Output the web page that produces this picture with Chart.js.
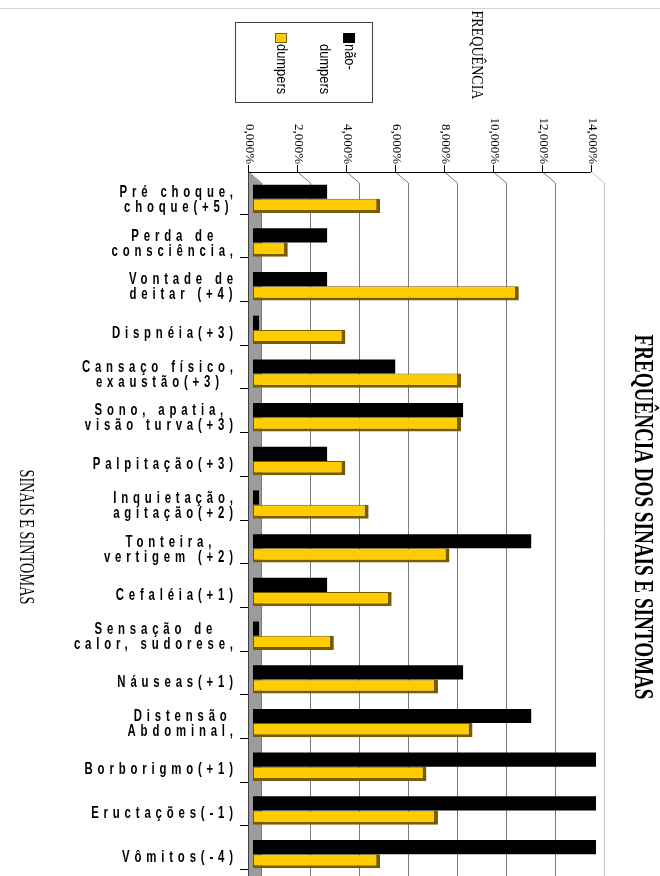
<!DOCTYPE html>
<html>
<head>
<meta charset="utf-8">
<script src="https://cdn.jsdelivr.net/npm/chart.js@4.4.1/dist/chart.umd.min.js"></script>
<style>
html, body { margin: 0; padding: 0; background: #fff; }
canvas { display: block; }
</style>
</head>
<body>
<canvas id="grafico" width="660" height="876"></canvas>
<script>
// dados
const categorias = [
    ['Pré choque,', 'choque(+5)'],
    ['Perda de', 'consciência,'],
    ['Vontade de', 'deitar (+4)'],
    'Dispnéia(+3)',
    ['Cansaço físico,', 'exaustão(+3)'],
    ['Sono, apatia,', 'visão turva(+3)'],
    'Palpitação(+3)',
    ['Inquietação,', 'agitação(+2)'],
    ['Tonteira,', 'vertigem (+2)'],
    'Cefaléia(+1)',
    ['Sensação de', 'calor, sudorese,'],
    'Náuseas(+1)',
    ['Distensão', 'Abdominal,'],
    'Borborigmo(+1)',
    'Eructações(-1)',
    'Vômitos(-4)'
];
const naoDumpers = [2.78, 2.78, 2.78, 0, 5.56, 8.33, 2.78, 0, 11.11, 2.78, 0, 8.33, 11.11, 13.89, 13.89, 13.89];
const dumpers = [5.19, 1.42, 10.85, 3.77, 8.49, 8.49, 3.77, 4.72, 8.02, 5.66, 3.30, 7.55, 8.96, 7.08, 7.55, 5.19];
const ticksX = [0, 2, 4, 6, 8, 10, 12, 14];
const legendas = [['não-', 'dumpers'], ['dumpers']];

const PROF = 13;      // profundidade do efeito 3D
const DESLOC = 0.245; // deslocamento da série de trás (em %)

const formatPct = v => v.toFixed(3).replace('.', ',') + '%';

// texto girado 90° e comprimido até caber numa largura
function textoGirado(ctx, txt, cx, cy, fonte, largura) {
    ctx.save();
    ctx.font = fonte;
    const w = ctx.measureText(txt).width;
    ctx.translate(cx, cy);
    ctx.rotate(Math.PI / 2);
    ctx.scale(largura / w, 1);
    ctx.textAlign = 'center';
    ctx.textBaseline = 'middle';
    ctx.fillText(txt, 0, 0);
    ctx.restore();
}

const desenho3d = {
    id: 'desenho3d',
    beforeDatasetsDraw(chart) {
        const { ctx, chartArea: a, scales: { x } } = chart;
        const frente = v => x.getPixelForValue(v) - 5;
        const topo = 172;
        ctx.save();
        // linhas de grade na parede do fundo
        ticksX.forEach((v, i) => {
            const fx = frente(v);
            ctx.strokeStyle = i === ticksX.length - 1 ? '#c4c4c4' : '#7a7a7a';
            ctx.lineWidth = 1;
            ctx.beginPath();
            ctx.moveTo(fx + 0.5, topo);
            ctx.lineTo(fx + PROF + 0.5, topo + 11);
            ctx.lineTo(fx + PROF + 0.5, a.bottom);
            ctx.stroke();
        });
        // parede lateral cinza
        const x0 = frente(0);
        ctx.fillStyle = '#9c9c9c';
        ctx.beginPath();
        ctx.moveTo(x0, topo);
        ctx.lineTo(x0 + PROF, topo + 11);
        ctx.lineTo(x0 + PROF, a.bottom);
        ctx.lineTo(x0, a.bottom);
        ctx.closePath();
        ctx.fill();
        ctx.strokeStyle = '#404040';
        ctx.beginPath();
        ctx.moveTo(x0 + 0.5, topo);
        ctx.lineTo(x0 + 0.5, a.bottom);
        ctx.stroke();
        // eixo de valores no topo
        ctx.strokeStyle = '#000';
        ctx.beginPath();
        ctx.moveTo(x0, topo + 0.5);
        ctx.lineTo(frente(14), topo + 0.5);
        ticksX.forEach(v => {
            ctx.moveTo(frente(v) + 0.5, topo);
            ctx.lineTo(frente(v) + 0.5, topo - 7);
        });
        ctx.stroke();
        ctx.restore();
    },
    afterDraw(chart) {
        const { ctx, scales: { x, y } } = chart;
        const frente = v => x.getPixelForValue(v) - 5;
        ctx.save();
        ctx.fillStyle = '#000';

        // linha clara no topo da página
        ctx.strokeStyle = '#d4d4d4';
        ctx.beginPath();
        ctx.moveTo(0, 8.5);
        ctx.lineTo(660, 8.5);
        ctx.stroke();

        // rótulos dos ticks (girados)
        ctx.font = '13px "Liberation Serif", "Times New Roman", serif';
        ticksX.forEach(v => {
            ctx.save();
            ctx.translate(frente(v) + 1, 164);
            ctx.rotate(Math.PI / 2);
            ctx.textAlign = 'right';
            ctx.textBaseline = 'middle';
            ctx.fillText(formatPct(v), 0, 0);
            ctx.restore();
        });

        // marcas de separação das categorias
        ctx.strokeStyle = '#000';
        ctx.beginPath();
        for (let i = 0; i < categorias.length; i++) {
            const lim = (i < categorias.length - 1)
                ? (y.getPixelForValue(i) + y.getPixelForValue(i + 1)) / 2
                : y.getPixelForValue(i) + (y.getPixelForValue(i) - y.getPixelForValue(i - 1)) / 2;
            const ty = Math.round(lim - 7) + 0.5;
            ctx.moveTo(240, ty);
            ctx.lineTo(frente(0), ty);
        }
        ctx.stroke();

        // rótulos das categorias (espaçados e estreitos)
        const esc = 0.67, esp = 7.2;
        ctx.font = 'bold 17px "Liberation Sans", Arial, sans-serif';
        ctx.letterSpacing = esp + 'px';
        ctx.textBaseline = 'middle';
        ctx.textAlign = 'left';
        categorias.forEach((cat, i) => {
            const linhas = Array.isArray(cat) ? cat : [cat];
            const larg = linhas.map(l => (ctx.measureText(l).width - esp) * esc);
            const maxL = Math.max(...larg);
            const cx = 233 - maxL / 2;
            const cy = y.getPixelForValue(i);
            linhas.forEach((l, j) => {
                const ly = linhas.length === 1 ? cy + 3 : cy - 6.5 + j * 15;
                ctx.save();
                ctx.translate(cx - larg[j] / 2, ly);
                ctx.scale(esc, 1);
                ctx.fillText(l, 0, 0);
                ctx.restore();
            });
        });
        ctx.letterSpacing = '0px';

        // títulos
        textoGirado(ctx, 'FREQUÊNCIA DOS SINAIS E SINTOMAS', 642, 517, 'bold 28px "Liberation Serif", serif', 365);
        textoGirado(ctx, 'SINAIS E SINTOMAS', 25, 537, '20px "Liberation Serif", serif', 135);
        textoGirado(ctx, 'FREQUÊNCIA', 476, 55, '17px "Liberation Serif", serif', 89);

        // legenda girada
        ctx.strokeStyle = '#404040';
        ctx.lineWidth = 1;
        ctx.strokeRect(235.5, 22.5, 137, 80);
        const cores = ['#000000', '#FFCC00'];
        const posX = [349, 281];
        ctx.font = '15px "Liberation Sans", Arial, sans-serif';
        legendas.forEach((linhas, k) => {
            ctx.fillStyle = cores[k];
            ctx.fillRect(posX[k] - 6, 33, 12, 10);
            ctx.strokeStyle = k === 1 ? '#806000' : '#000';
            ctx.strokeRect(posX[k] - 5.5, 33.5, 11, 9);
            ctx.fillStyle = '#000';
            linhas.forEach((l, j) => {
                ctx.save();
                ctx.translate(posX[k] - j * 25, 44);
                ctx.rotate(Math.PI / 2);
                ctx.scale(0.86, 1);
                ctx.textAlign = 'left';
                ctx.textBaseline = 'middle';
                ctx.fillText(l, 0, 0);
                ctx.restore();
            });
        });
        ctx.restore();
    }
};

new Chart(document.getElementById('grafico'), {
    type: 'bar',
    data: {
        labels: categorias,
        datasets: [
            {
                label: 'não-dumpers',
                data: naoDumpers,
                xAxisID: 'x2',
                stack: 'a',
                base: -DESLOC,
                backgroundColor: '#000000',
                borderWidth: 0
            },
            {
                label: 'dumpers',
                data: dumpers,
                xAxisID: 'x',
                stack: 'b',
                backgroundColor: '#FFCC00',
                borderColor: '#7a5c00',
                borderWidth: { top: 1, left: 1, right: 4, bottom: 3 },
                borderSkipped: false
            }
        ]
    },
    options: {
        indexAxis: 'y',
        responsive: false,
        animation: false,
        devicePixelRatio: 1,
        categoryPercentage: 0.65,
        barPercentage: 1,
        layout: { padding: { left: 253, right: 64, top: 177, bottom: 0 } },
        scales: {
            x: { display: false, min: 0, max: 14 },
            x2: { display: false, axis: 'x', min: -DESLOC, max: 14 - DESLOC },
            y: { display: false }
        },
        plugins: {
            legend: { display: false },
            tooltip: { enabled: false }
        }
    },
    plugins: [desenho3d]
});
</script>
</body>
</html>
